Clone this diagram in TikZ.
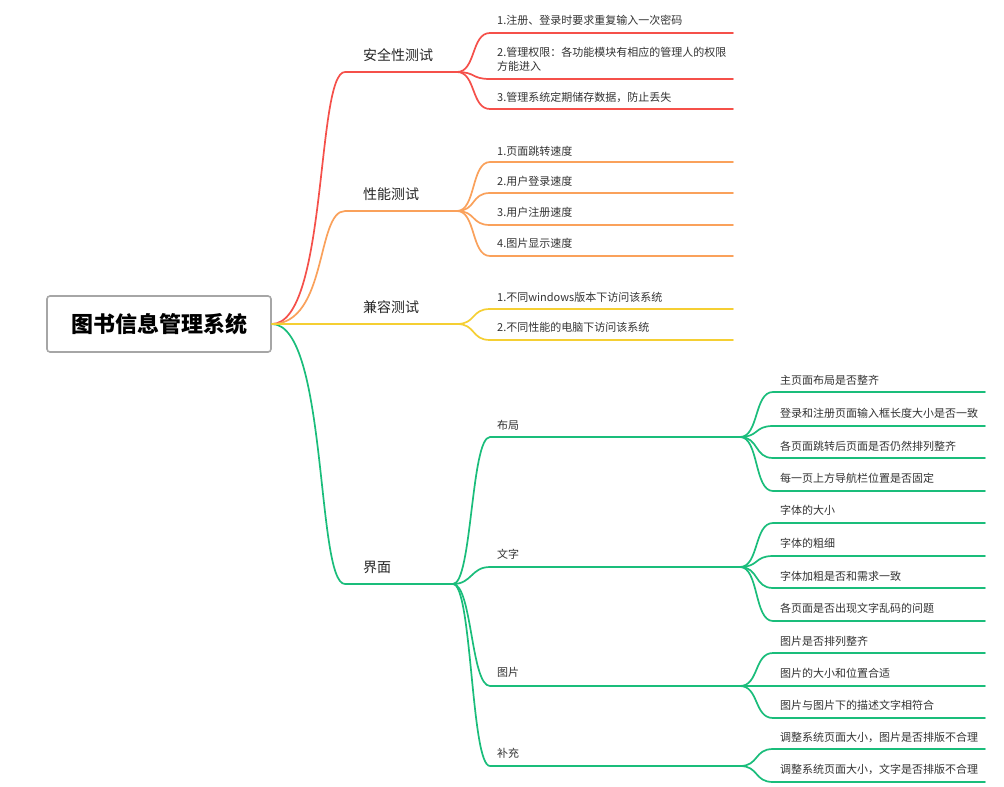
\documentclass[tikz,border=0pt]{standalone}
\usepackage{fontspec}
\setmainfont{Noto Sans CJK SC}
\definecolor{cred}{HTML}{F5504A}
\definecolor{corange}{HTML}{FAA15B}
\definecolor{cyellow}{HTML}{F5CF33}
\definecolor{cgreen}{HTML}{1ABD7B}
\definecolor{txt}{HTML}{333333}
\tikzset{
  rootbox/.style={draw=black!35, line width=1.6pt, rounded corners=3pt, fill=white,
    minimum width=224pt, minimum height=56pt, inner sep=0pt,
    font=\fontsize{22}{26}\selectfont\bfseries, text=black},
  lbl/.style={anchor=west, inner sep=0pt, font=\fontsize{14}{17}\selectfont, text=black!85},
  leaf/.style={anchor=west, inner sep=0pt, align=left, font=\fontsize{11}{14}\selectfont, text=txt},
  br/.style={line width=1.7pt, line cap=round},
}
% S-shaped twig: colour, from, name, x-start, x-end, y
\newcommand\twig[6]{%
  \coordinate (#3s) at (#4,#6);
  \coordinate (#3e) at (#5,#6);
  \draw[br,#1] (#2) .. controls +(19,0) and +(-19,0) .. (#3s) -- (#3e);}
\begin{document}
\begin{tikzpicture}[x=1pt,y=-1pt]
\useasboundingbox (0,0) rectangle (1004,787);
\fill[white] (0,0) rectangle (1004,787);

% main branches
\coordinate (sA) at (345,72);  \coordinate (fA) at (457,72);
\coordinate (sB) at (345,211); \coordinate (fB) at (457,211);
\coordinate (fC) at (457,324);
\coordinate (sD) at (345,584); \coordinate (fD) at (453,584);

\node[rootbox] (root) at (159,324) {图书信息管理系统};

\draw[br,cred]    (root.east) .. controls +(56,0) and +(-29,0) .. (sA) -- (fA);
\draw[br,corange] (root.east) .. controls +(56,0) and +(-29,0) .. (sB) -- (fB);
\draw[br,cgreen]  (root.east) .. controls +(56,0) and +(-29,0) .. (sD) -- (fD);
\draw[br,cyellow] (root.east) -- (fC);

\node[lbl] (nA) at (363,55)  {安全性测试};
\node[lbl] (nB) at (363,194) {性能测试};
\node[lbl] (nC) at (363,307) {兼容测试};
\node[lbl] (nD) at (363,567) {界面};

% 安全性测试
\twig{cred}{fA}{a1}{490}{733}{33}
\twig{cred}{fA}{a2}{490}{733}{79}
\twig{cred}{fA}{a3}{490}{733}{109}
\node[leaf] (ta1) at (497,20) {1.注册、登录时要求重复输入一次密码};
\node[leaf] (ta2) at (497,59) {2.管理权限：各功能模块有相应的管理人的权限\\方能进入};
\node[leaf] (ta3) at (497,97) {3.管理系统定期储存数据，防止丢失};

% 性能测试
\twig{corange}{fB}{b1}{490}{733}{162}
\twig{corange}{fB}{b2}{490}{733}{193}
\twig{corange}{fB}{b3}{490}{733}{225}
\twig{corange}{fB}{b4}{490}{733}{256}
\node[leaf] (tb1) at (497,151) {1.页面跳转速度};
\node[leaf] (tb2) at (497,181) {2.用户登录速度};
\node[leaf] (tb3) at (497,212) {3.用户注册速度};
\node[leaf] (tb4) at (497,243) {4.图片显示速度};

% 兼容测试
\twig{cyellow}{fC}{c1}{490}{733}{309}
\twig{cyellow}{fC}{c2}{490}{733}{340}
\node[leaf] (tc1) at (497,297) {1.不同windows版本下访问该系统};
\node[leaf] (tc2) at (497,327) {2.不同性能的电脑下访问该系统};

% 界面 second level
\twig{cgreen}{fD}{d1}{490}{740}{437}
\twig{cgreen}{fD}{d2}{490}{740}{567}
\twig{cgreen}{fD}{d3}{490}{740}{686}
\twig{cgreen}{fD}{d4}{490}{740}{766}
\node[leaf] (td1) at (497,425) {布局};
\node[leaf] (td2) at (497,554) {文字};
\node[leaf] (td3) at (497,672) {图片};
\node[leaf] (td4) at (497,753) {补充};

% 布局
\twig{cgreen}{d1e}{e1}{773}{985}{392}
\twig{cgreen}{d1e}{e2}{773}{985}{426}
\twig{cgreen}{d1e}{e3}{773}{985}{458}
\twig{cgreen}{d1e}{e4}{773}{985}{491}
\node[leaf] (te1) at (780,380) {主页面布局是否整齐};
\node[leaf] (te2) at (780,413) {登录和注册页面输入框长度大小是否一致};
\node[leaf] (te3) at (780,446) {各页面跳转后页面是否仍然排列整齐};
\node[leaf] (te4) at (780,478) {每一页上方导航栏位置是否固定};

% 文字
\twig{cgreen}{d2e}{f1}{773}{985}{523}
\twig{cgreen}{d2e}{f2}{773}{985}{556}
\twig{cgreen}{d2e}{f3}{773}{985}{588}
\twig{cgreen}{d2e}{f4}{773}{985}{621}
\node[leaf] (tf1) at (780,510) {字体的大小};
\node[leaf] (tf2) at (780,543) {字体的粗细};
\node[leaf] (tf3) at (780,576) {字体加粗是否和需求一致};
\node[leaf] (tf4) at (780,608) {各页面是否出现文字乱码的问题};

% 图片
\twig{cgreen}{d3e}{g1}{773}{985}{653}
\twig{cgreen}{d3e}{g2}{773}{985}{686}
\twig{cgreen}{d3e}{g3}{773}{985}{718}
\node[leaf] (tg1) at (780,641) {图片是否排列整齐};
\node[leaf] (tg2) at (780,673) {图片的大小和位置合适};
\node[leaf] (tg3) at (780,705) {图片与图片下的描述文字相符合};

% 补充
\twig{cgreen}{d4e}{h1}{773}{985}{749}
\twig{cgreen}{d4e}{h2}{773}{985}{782}
\node[leaf] (th1) at (780,737) {调整系统页面大小，图片是否排版不合理};
\node[leaf] (th2) at (780,769) {调整系统页面大小，文字是否排版不合理};
\end{tikzpicture}
\end{document}
